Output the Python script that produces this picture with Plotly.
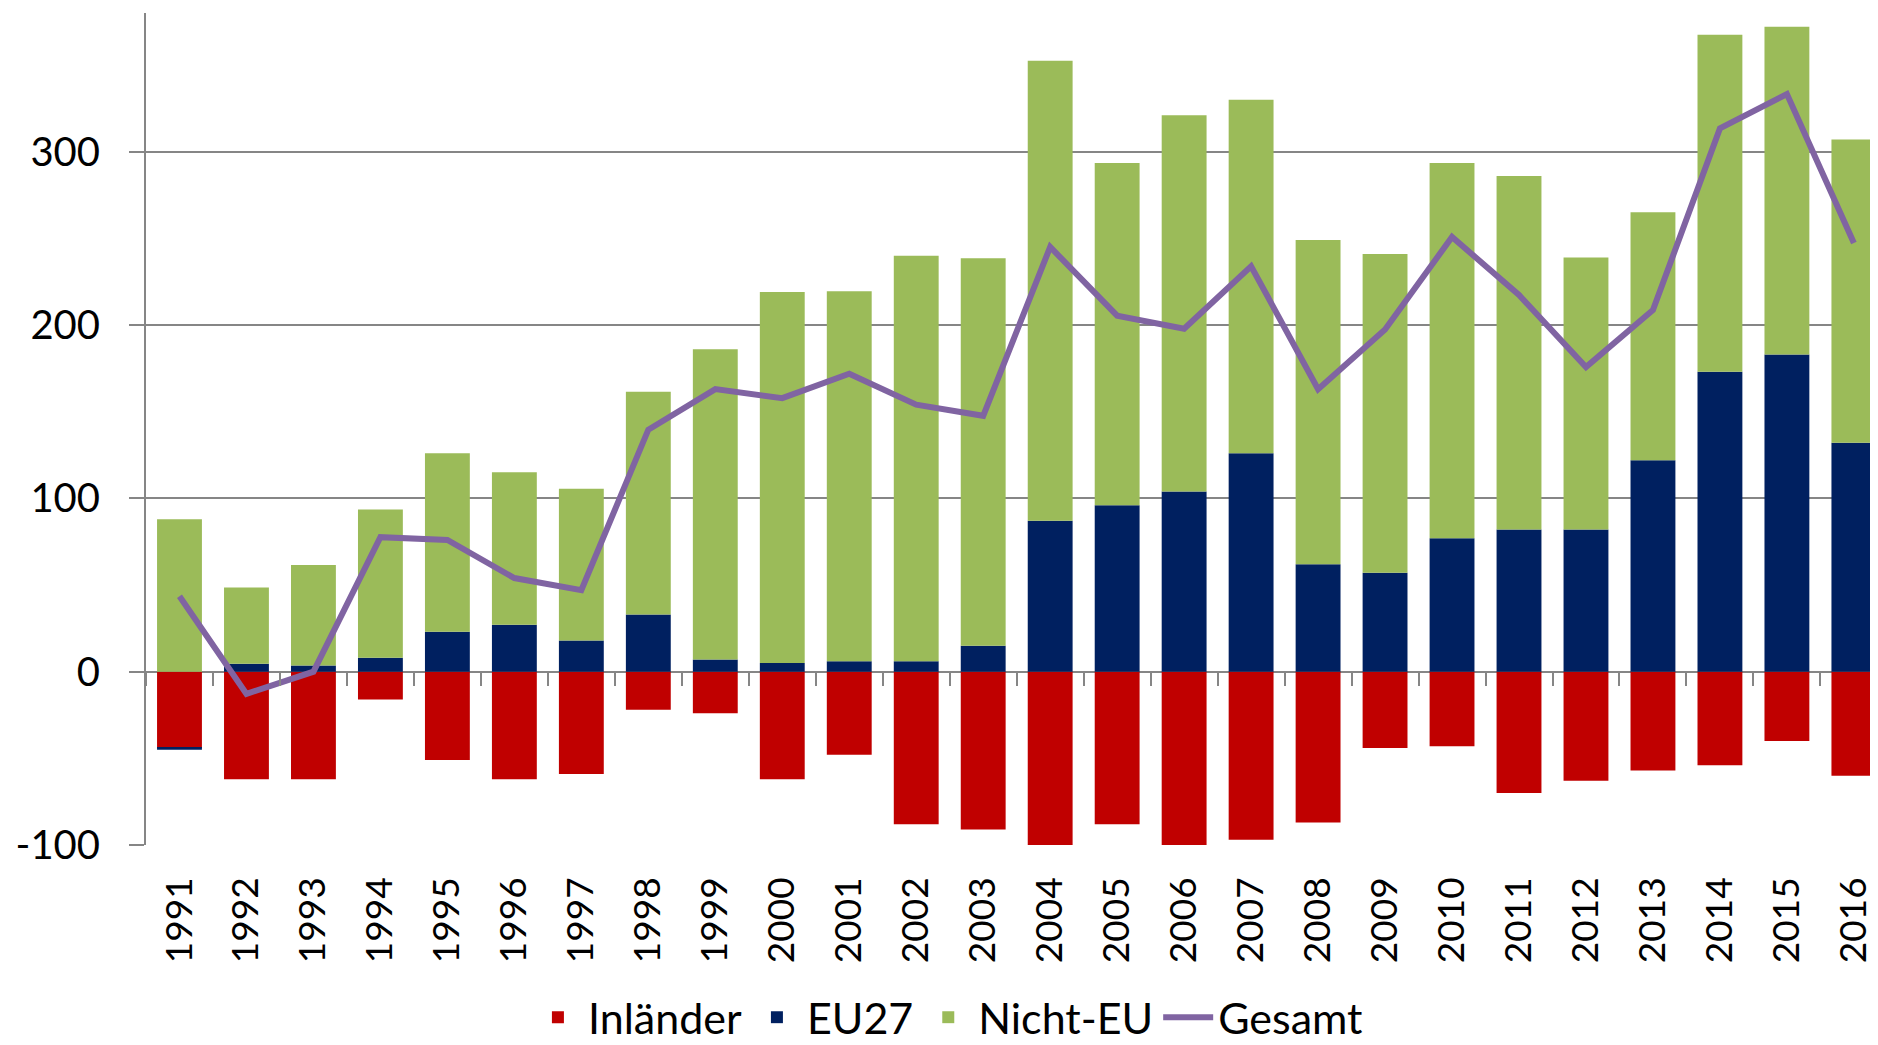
import plotly.graph_objects as go

years = [str(y) for y in range(1991, 2017)]
inlaender = [-44, -62, -62, -16, -51, -62, -59, -22, -24, -62, -48, -88, -91,
             -107, -88, -123, -97, -87, -44, -43, -70, -63, -57, -54, -40, -60]
eu27 = [-1, 4.5, 3.5, 8, 23, 27, 18, 33, 7, 5, 6, 6, 15,
        87, 96, 104, 126, 62, 57, 77, 82, 82, 122, 173, 183, 132]
nicht_eu = [88, 44, 58, 85.5, 103, 88, 87.5, 128.5, 179, 214, 213.5, 234, 223.5,
            265.5, 197.5, 217, 204, 187, 184, 216.5, 204, 157, 143, 194.5, 189, 175]
gesamt = [43.5, -12.8, 0, 77.6, 76, 54, 47, 139.6, 163, 157.8, 171.9, 154, 147.6,
          245, 205.4, 197.8, 233.9, 163, 197.4, 250.8, 217.3, 175.7, 208.6, 313.4, 333.2, 247.3]
y_ticks = [-100, 0, 100, 200, 300]
y_ticktext = ["-100", "0", "100", "200", "300"]

FONT = "Lato, Open Sans, Liberation Sans, sans-serif"
GRID = "#868686"

fig = go.Figure()
fig.add_trace(go.Bar(name="Inländer", x=years, y=inlaender, marker=dict(color="#C00000", line=dict(width=0))))
fig.add_trace(go.Bar(name="EU27", x=years, y=eu27, marker=dict(color="#002060", line=dict(width=0))))
fig.add_trace(go.Bar(name="Nicht-EU", x=years, y=nicht_eu, marker=dict(color="#9BBB59", line=dict(width=0))))
fig.add_trace(go.Scatter(name="Gesamt", x=years, y=gesamt, mode="lines",
                         line=dict(color="#8064A2", width=6)))
# helper trace for the category tick marks on the zero line
fig.add_trace(go.Scatter(x=years, y=[None] * len(years), xaxis="x2", showlegend=False,
                         hoverinfo="skip", mode="lines"))

fig.update_layout(
    width=1870, height=1037,
    margin=dict(l=138, r=0, t=5, b=200, autoexpand=False),
    paper_bgcolor="white", plot_bgcolor="white",
    barmode="relative", bargap=0.33,
    font=dict(family=FONT, size=40, color="black"),
    showlegend=True,
    legend=dict(orientation="h", x=0.463, xanchor="center", yref="paper", y=-0.207,
                yanchor="middle", font=dict(size=43), itemwidth=50, tracegroupgap=0,
                bgcolor="rgba(0,0,0,0)"),
    xaxis=dict(type="category", categoryorder="array", categoryarray=years,
               range=[-0.5, 25.36], tickangle=-90, showgrid=False, showline=False,
               ticks="", ticklabelstandoff=24, tickfont=dict(size=37), automargin=False),
    xaxis2=dict(type="category", categoryorder="array", categoryarray=years,
                range=[-0.5, 25.36], overlaying="x", anchor="free", position=100 / 480,
                showticklabels=False, showgrid=False, showline=False, zeroline=False,
                ticks="outside", tickson="boundaries", ticklen=13, tickwidth=2, tickcolor=GRID),
    yaxis=dict(range=[-100, 380], tickvals=y_ticks, ticktext=y_ticktext,
               showgrid=True, gridcolor=GRID, gridwidth=2, zeroline=False,
               showline=True, linecolor=GRID, linewidth=2,
               ticks="outside", ticklen=15, tickwidth=2, tickcolor=GRID,
               ticklabelstandoff=21, tickfont=dict(size=40), automargin=False),
)

fig.write_html("out.html")
